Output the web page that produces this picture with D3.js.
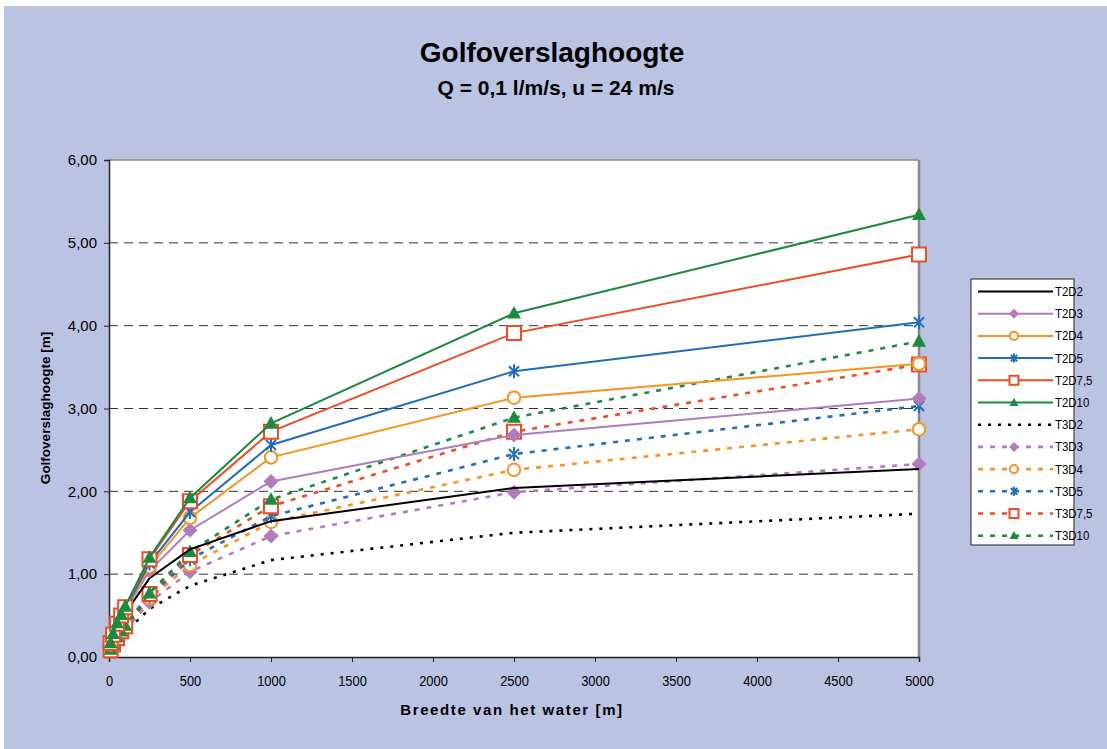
<!DOCTYPE html>
<html>
<head>
<meta charset="utf-8">
<script src="https://cdn.jsdelivr.net/npm/d3@7"></script>
<style>
  html, body { margin: 0; padding: 0; background: #ffffff; }
  svg { display: block; }
  text { font-family: Arial, "Liberation Sans", sans-serif; fill: #000; }
</style>
</head>
<body>
<svg id="chart" width="1107" height="749"></svg>
<script>
// Breedte van het water [m]
const widths = [10, 25, 50, 75, 100, 250, 500, 1000, 2500, 5000];

// Golfoverslaghoogte [m] per reeks
const T2D2  = [0.13, 0.22, 0.34, 0.44, 0.53, 0.95, 1.30, 1.64, 2.04, 2.27];
const T2D3  = [0.15, 0.25, 0.37, 0.47, 0.56, 1.04, 1.53, 2.12, 2.68, 3.12];
const T2D4  = [0.15, 0.26, 0.38, 0.48, 0.57, 1.09, 1.68, 2.41, 3.13, 3.54];
const T2D5  = [0.16, 0.26, 0.39, 0.49, 0.58, 1.13, 1.75, 2.56, 3.45, 4.04];
const T2D75 = [0.17, 0.27, 0.40, 0.50, 0.60, 1.18, 1.88, 2.72, 3.91, 4.86];
const T2D10 = [0.17, 0.28, 0.41, 0.51, 0.61, 1.20, 1.92, 2.82, 4.15, 5.34];
const T3D2  = [0.06, 0.11, 0.19, 0.25, 0.30, 0.58, 0.86, 1.17, 1.50, 1.73];
const T3D3  = [0.07, 0.13, 0.21, 0.28, 0.33, 0.66, 1.03, 1.46, 1.99, 2.33];
const T3D4  = [0.08, 0.14, 0.22, 0.29, 0.35, 0.71, 1.11, 1.63, 2.26, 2.75];
const T3D5  = [0.08, 0.14, 0.23, 0.30, 0.36, 0.73, 1.18, 1.70, 2.45, 3.03];
const T3D75 = [0.08, 0.15, 0.23, 0.31, 0.37, 0.76, 1.23, 1.82, 2.72, 3.53];
const T3D10 = [0.09, 0.15, 0.24, 0.31, 0.38, 0.77, 1.27, 1.90, 2.89, 3.81];

const seriesNames = ["T2D2", "T2D3", "T2D4", "T2D5", "T2D7,5", "T2D10",
                     "T3D2", "T3D3", "T3D4", "T3D5", "T3D7,5", "T3D10"];
const seriesValues = [T2D2, T2D3, T2D4, T2D5, T2D75, T2D10,
                      T3D2, T3D3, T3D4, T3D5, T3D75, T3D10];

const xTicks = [0, 500, 1000, 1500, 2000, 2500, 3000, 3500, 4000, 4500, 5000];
const yTicks = [0, 1, 2, 3, 4, 5, 6];

// styling per series
const colors = ["#000000", "#B07CBB", "#F7931E", "#1F6EBE", "#EF4B24", "#1B8B3D"];
const markers = ["none", "diamond", "circle", "star", "square", "triangle"];

const svg = d3.select("#chart");
const W = 1107, H = 749;

// background panel
svg.append("rect").attr("x", 4).attr("y", 6).attr("width", W - 4).attr("height", H - 6)
  .attr("fill", "#BAC3E2");

const plot = { left: 109, right: 919, top: 160, bottom: 657 };

const x = d3.scaleLinear().domain([0, 5000]).range([plot.left, plot.right]);
const y = d3.scaleLinear().domain([0, 6]).range([plot.bottom, plot.top]);

// plot area
svg.append("rect")
  .attr("x", plot.left).attr("y", plot.top)
  .attr("width", plot.right - plot.left).attr("height", plot.bottom - plot.top)
  .attr("fill", "#ffffff");

// dashed gridlines
svg.append("g").selectAll("line")
  .data(yTicks.filter(t => t > 0 && t < 6))
  .join("line")
  .attr("x1", plot.left).attr("x2", plot.right)
  .attr("y1", d => y(d)).attr("y2", d => y(d))
  .attr("stroke", "#333").attr("stroke-width", 1)
  .attr("stroke-dasharray", "9,6");

// frame: top and right in grey
svg.append("line").attr("x1", plot.left).attr("x2", plot.right)
  .attr("y1", plot.top).attr("y2", plot.top).attr("stroke", "#8a8a8a").attr("stroke-width", 1.5);
svg.append("line").attr("x1", plot.right).attr("x2", plot.right)
  .attr("y1", plot.top).attr("y2", plot.bottom).attr("stroke", "#8a8a8a").attr("stroke-width", 2.5);

// axes
const fmt = d => d3.format(".2f")(d).replace(".", ",");
const yAxis = svg.append("g")
  .attr("transform", `translate(${plot.left},0)`)
  .call(d3.axisLeft(y).tickValues(yTicks).tickFormat(fmt).tickSize(5).tickPadding(7));
const xAxis = svg.append("g")
  .attr("transform", `translate(0,${plot.bottom})`)
  .call(d3.axisBottom(x).tickValues(xTicks).tickFormat(d3.format("d")).tickSize(5).tickPadding(13));

[yAxis, xAxis].forEach(a => {
  a.select(".domain").attr("stroke", "#222").attr("stroke-width", 1.5);
  a.selectAll(".tick line").attr("stroke", "#222");
  a.selectAll(".tick text").attr("fill", "#111")
    .attr("font-family", "Arial, 'Liberation Sans', sans-serif");
});
yAxis.selectAll(".tick text").attr("font-size", 15);
xAxis.selectAll(".tick text").attr("font-size", 15).attr("transform", "scale(0.86,1)");

// line generator
const line = d3.line().x((d, i) => x(widths[i])).y(d => y(d));

function markerPath(type, s) {
  const r = s / 2;
  switch (type) {
    case "diamond": return `M0,${-r}L${r},0L0,${r}L${-r},0Z`;
    case "circle": return d3.symbol(d3.symbolCircle, Math.PI * r * r * 0.8)();
    case "square": return `M${-r},${-r}H${r}V${r}H${-r}Z`;
    case "triangle": return `M0,${-r * 1.05}L${r},${r * 0.75}L${-r},${r * 0.75}Z`;
    case "star": {
      const d = r * 0.72;
      return `M0,${-r}V${r}M${-d},${-d}L${d},${d}M${d},${-d}L${-d},${d}`;
    }
  }
  return null;
}

function styleMarker(sel, type, color) {
  if (type === "circle" || type === "square") {
    sel.attr("fill", "#ffffff").attr("stroke", color).attr("stroke-width", 2);
  } else if (type === "star") {
    sel.attr("fill", "none").attr("stroke", color).attr("stroke-width", 2);
  } else {
    sel.attr("fill", color).attr("stroke", "none");
  }
}

const gLines = svg.append("g");
// dashed T3 series first, solid T2 series on top
const order = [6, 7, 8, 9, 10, 11, 0, 1, 2, 3, 4, 5];
order.forEach(k => {
  const vals = seriesValues[k];
  const c = colors[k % 6];
  const dashed = k >= 6;
  gLines.append("path")
    .attr("d", line(vals))
    .attr("fill", "none")
    .attr("stroke", c)
    .attr("stroke-width", dashed ? 2.6 : 2)
    .attr("stroke-dasharray", dashed ? (k === 6 ? "3,7" : "5,7") : null);
  const m = markers[k % 6];
  if (m !== "none") {
    const pts = gLines.append("g").selectAll("path")
      .data(vals)
      .join("path")
      .attr("transform", (d, i) => `translate(${x(widths[i])},${y(d)})`)
      .attr("d", markerPath(m, m === "diamond" ? 15 : 14));
    styleMarker(pts, m, c);
  }
});

// titles
svg.append("text").attr("x", 552).attr("y", 62).attr("text-anchor", "middle")
  .attr("font-size", 28).attr("font-weight", "bold").text("Golfoverslaghoogte");
svg.append("text").attr("x", 556).attr("y", 95).attr("text-anchor", "middle")
  .attr("font-size", 21).attr("font-weight", "bold").text("Q = 0,1 l/m/s, u = 24 m/s");

svg.append("text")
  .attr("transform", "translate(50,408) rotate(-90)")
  .attr("text-anchor", "middle").attr("font-size", 13.5).attr("font-weight", "bold")
  .text("Golfoverslaghoogte [m]");

svg.append("text").attr("x", 512).attr("y", 715).attr("text-anchor", "middle")
  .attr("font-size", 15).attr("font-weight", "bold").attr("letter-spacing", 1.6)
  .text("Breedte van het water [m]");

// legend
const lg = svg.append("g");
lg.append("rect").attr("x", 971).attr("y", 279).attr("width", 103).attr("height", 266)
  .attr("fill", "#ffffff").attr("stroke", "#222").attr("stroke-width", 1);
seriesNames.forEach((name, k) => {
  const yy = 291.5 + k * 22.2;
  const c = colors[k % 6];
  const dashed = k >= 6;
  lg.append("line").attr("x1", 978).attr("x2", 1053).attr("y1", yy).attr("y2", yy)
    .attr("stroke", c).attr("stroke-width", dashed ? 2.6 : 2)
    .attr("stroke-dasharray", dashed ? (k === 6 ? "3,7" : "5,7") : null);
  const m = markers[k % 6];
  if (m !== "none") {
    const mk = lg.append("path").attr("transform", `translate(1014,${yy})`)
      .attr("d", markerPath(m, m === "diamond" ? 10 : 9));
    styleMarker(mk, m, c);
  }
  lg.append("text").attr("x", 1055 / 0.88).attr("y", yy + 4.5).attr("font-size", 13)
    .attr("transform", "scale(0.88,1)")
    .text(name);
});
</script>
</body>
</html>
